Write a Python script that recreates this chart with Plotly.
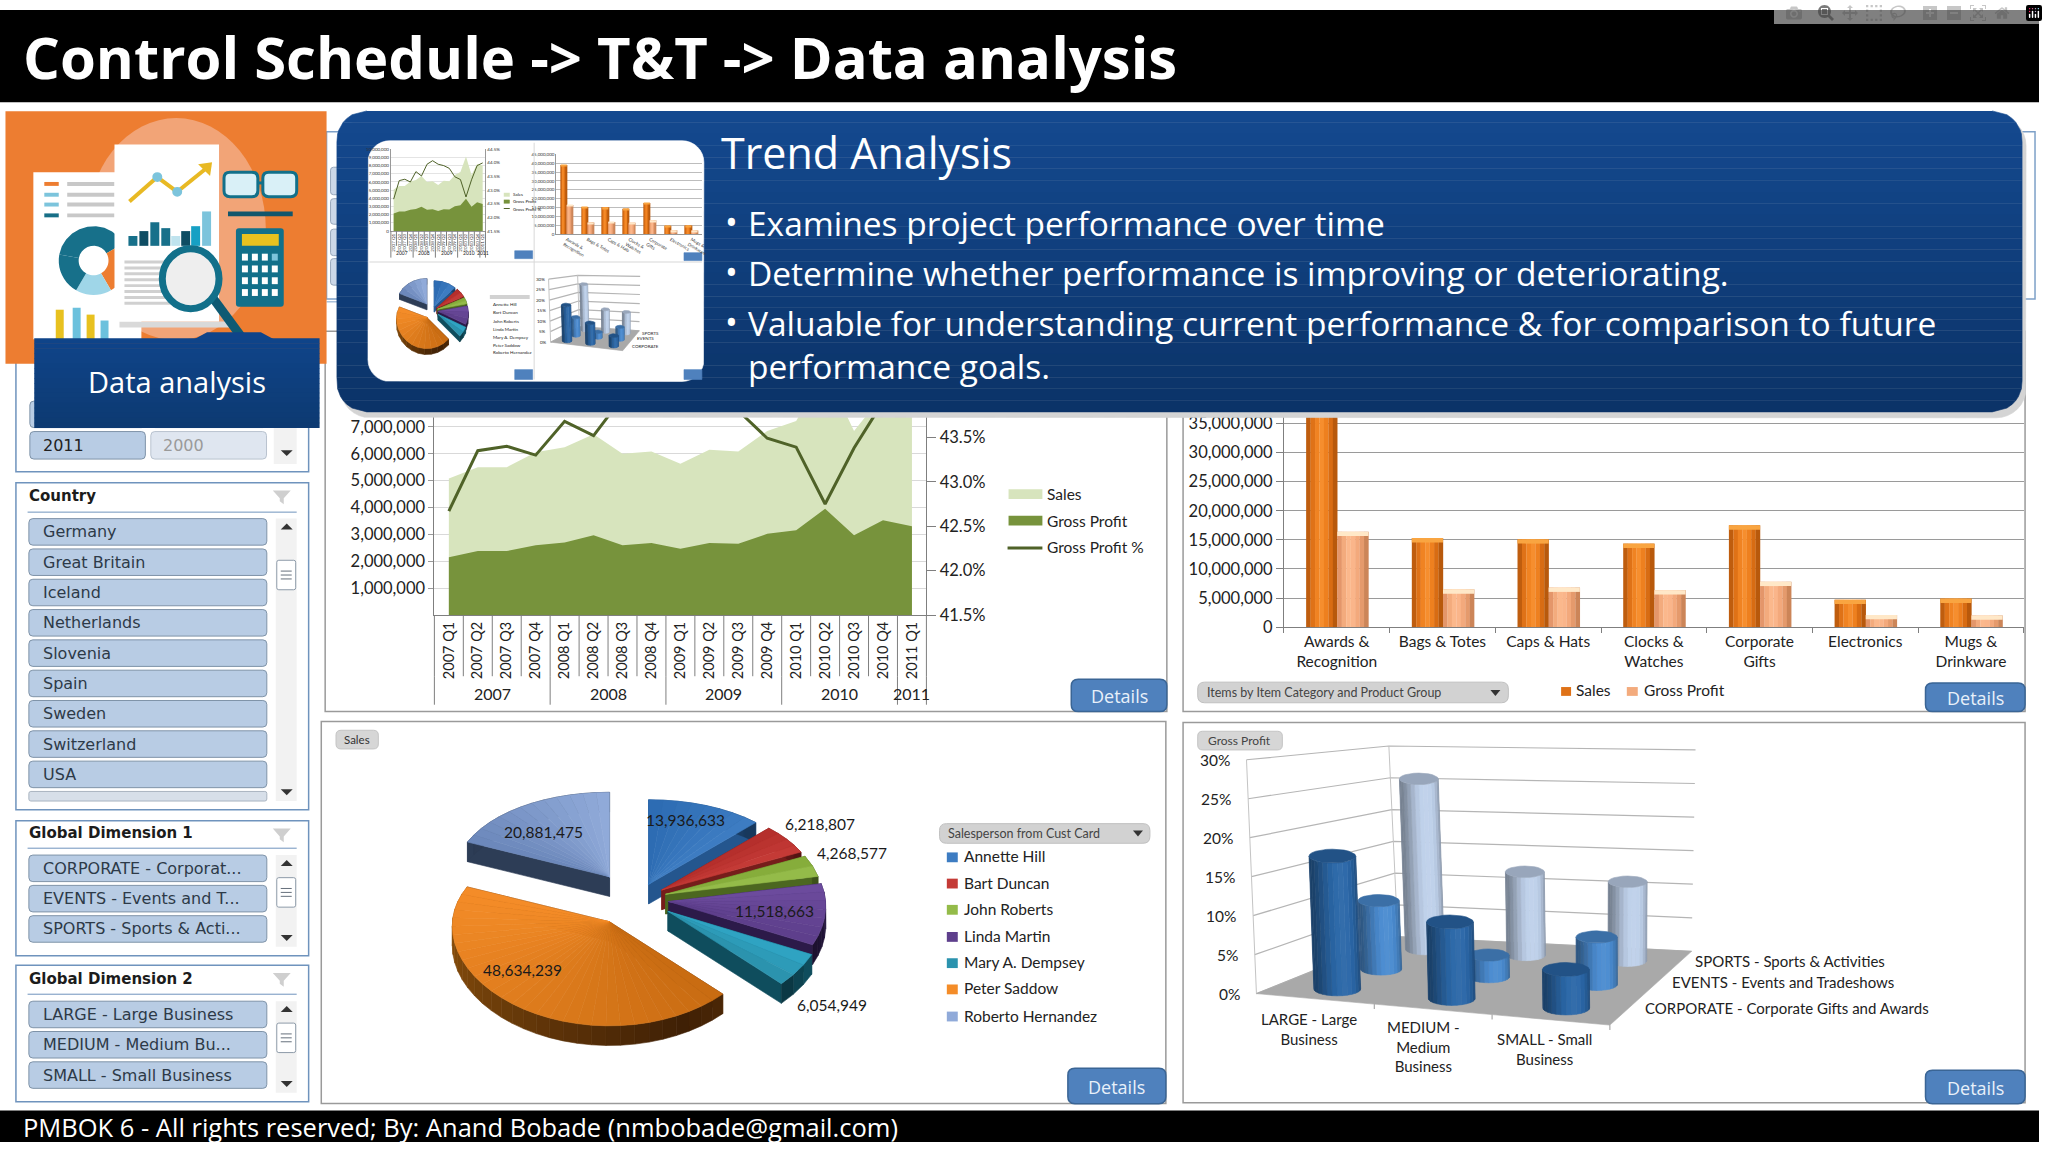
import math
import plotly.graph_objects as go

W, H = 2048, 1152

quarters = ['2007 Q1', '2007 Q2', '2007 Q3', '2007 Q4', '2008 Q1', '2008 Q2', '2008 Q3', '2008 Q4', '2009 Q1',
            '2009 Q2', '2009 Q3', '2009 Q4', '2010 Q1', '2010 Q2', '2010 Q3', '2010 Q4', '2011 Q1']
sales_q = [5.08e6, 5.5e6, 5.5e6, 6.06e6, 6.24e6, 6.73e6, 6.0e6, 6.08e6, 5.63e6,
           6.15e6, 6.08e6, 6.85e6, 7.22e6, 9.1e6, 6.85e6, 8.2e6, 8.0e6]
profit_q = [2.15e6, 2.38e6, 2.38e6, 2.6e6, 2.7e6, 2.97e6, 2.6e6, 2.68e6, 2.47e6,
            2.68e6, 2.65e6, 3.02e6, 3.15e6, 3.95e6, 2.97e6, 3.53e6, 3.3e6]
profit_pct = [42.67, 43.35, 43.4, 43.3, 43.68, 43.52, 43.95, 44.08, 43.95,
              43.9, 43.8, 43.49, 43.39, 42.75, 43.38, 43.9, 44.0]
years = ['2007', '2008', '2009', '2010', '2011']
year_quarters = [4, 4, 4, 4, 1]

bar_cats = ['Awards &<br>Recognition', 'Bags & Totes', 'Caps & Hats', 'Clocks &<br>Watches',
            'Corporate<br>Gifts', 'Electronics', 'Mugs &<br>Drinkware']
bar_sales = [39e6, 15.3e6, 15.1e6, 14.35e6, 17.5e6, 4.7e6, 4.9e6]
bar_profit = [16.4e6, 6.5e6, 6.8e6, 6.35e6, 7.8e6, 2.1e6, 2.0e6]

people = ['Annette Hill', 'Bart Duncan', 'John Roberts', 'Linda Martin', 'Mary A. Dempsey', 'Peter Saddow',
          'Roberto Hernandez']
pie_sales = [13936633, 6218807, 4268577, 11518663, 6054949, 48634239, 20881475]

sizes = ['LARGE - Large<br>Business', 'MEDIUM -<br>Medium<br>Business', 'SMALL - Small<br>Business']
dims = ['CORPORATE - Corporate Gifts and Awards', 'EVENTS - Events and Tradeshows', 'SPORTS - Sports & Activities']
margin_corporate = [17.5, 10, 5]
margin_events = [9.6, 3, 6.5]
margin_sports = [25.6, 12.3, 11.5]

countries = ['Germany', 'Great Britain', 'Iceland', 'Netherlands', 'Slovenia', 'Spain', 'Sweden', 'Switzerland', 'USA']
dim1_items = ['CORPORATE - Corporat...', 'EVENTS - Events and T...', 'SPORTS - Sports & Acti...']
dim2_items = ['LARGE - Large Business', 'MEDIUM - Medium Bu...', 'SMALL - Small Business']

bullets = ['Examines project performance over time', 'Determine whether performance is improving or deteriorating.',
           'Valuable for understanding current performance & for comparison to future', 'performance goals.']

# colours and layout constants
LATO = 'Lato'
SLIDE = 'Open Sans'
SLICER = 'DejaVu Sans'
PIE_TOP = [('#2d6cb3', '#3d7cc2'), ('#b52f2c', '#c43a36'), ('#86ad3b', '#94bb49'), ('#6c4b9d', '#5e3f8c'),
           ('#2fa3c2', '#2b93ae'), ('#c96c12', '#f48c28'), ('#6c88bb', '#90aad9')]
PIE_SIDE = ['#24568e', '#761d1b', '#4c6720', '#2c1a49', '#0f4d5d', '#5f330a', '#2d3d56']
PIE_PULL = [30, 30, 30, 32, 38, 50, 50]
PIE_LABELS = [(689, 824), (824, 828), (856, 858), (778, 917), (836, 1013), (525, 977), (546, 837)]
CYL_BASE = ['#2a67a8', '#4a8bd0', '#bed0ea']


def fx(x):
    return x / W


def fy(y):
    return 1 - y / H


shapes = []
notes = []
fig = go.Figure()


def rect(x0, y0, x1, y1, fill, line=None, layer='below', lw=1):
    shapes.append(dict(type='rect', xref='paper', yref='paper', x0=fx(x0), x1=fx(x1), y0=fy(y0), y1=fy(y1),
                       fillcolor=fill, layer=layer, line=dict(color=line or 'rgba(0,0,0,0)', width=lw if line else 0)))


def rpath(x0, y0, x1, y1, r):
    p = [('M', x0 + r, y0), ('L', x1 - r, y0), ('Q', x1, y0, x1, y0 + r), ('L', x1, y1 - r), ('Q', x1, y1, x1 - r, y1),
         ('L', x0 + r, y1), ('Q', x0, y1, x0, y1 - r), ('L', x0, y0 + r), ('Q', x0, y0, x0 + r, y0)]
    out = ''
    for seg in p:
        pts = seg[1:]
        out += seg[0] + ' '.join(f'{fx(pts[i]):.5f},{fy(pts[i + 1]):.5f}' for i in range(0, len(pts), 2)) + ' '
    return out + 'Z'


def rrect(x0, y0, x1, y1, r, fill, line=None, layer='below', lw=1):
    shapes.append(dict(type='path', xref='paper', yref='paper', path=rpath(x0, y0, x1, y1, r), fillcolor=fill,
                       layer=layer, line=dict(color=line or 'rgba(0,0,0,0)', width=lw if line else 0)))


def seg(x0, y0, x1, y1, color, w=1, layer='above'):
    shapes.append(dict(type='line', xref='paper', yref='paper', x0=fx(x0), x1=fx(x1), y0=fy(y0), y1=fy(y1),
                       layer=layer, line=dict(color=color, width=w)))


def tri(pts, fill, layer='below'):
    path = 'M' + ' L'.join(f'{fx(a):.5f},{fy(b):.5f}' for a, b in pts) + ' Z'
    shapes.append(dict(type='path', xref='paper', yref='paper', path=path, fillcolor=fill, layer=layer,
                       line=dict(width=0)))


def text(x, y, s, size, color='#222222', family=LATO, anchor='left', bold=False):
    notes.append(dict(xref='paper', yref='paper', x=fx(x), y=fy(y), text=f'<b>{s}</b>' if bold else s, showarrow=False,
                      xanchor=anchor, yanchor='middle', font=dict(family=family, size=size, color=color)))


def poly(xs, ys, color):
    fig.add_trace(go.Scatter(x=xs, y=ys, mode='lines', fill='toself', fillcolor=color, line=dict(color=color, width=0.6),
                             hoverinfo='skip', showlegend=False, xaxis='x3', yaxis='y4'))


def mix(a, b, t):
    ca = [int(a[i:i + 2], 16) for i in (1, 3, 5)]
    cb = [int(b[i:i + 2], 16) for i in (1, 3, 5)]
    return '#' + ''.join(f'{round(p + (q - p) * t):02x}' for p, q in zip(ca, cb))


def shade(c, f):
    return mix(c, '#000000', 1 - f) if f <= 1 else mix(c, '#ffffff', f - 1)


def rounded_outline(x0, y0, x1, y1, r, n=8):
    xs, ys = [], []
    for cx, cy, a0 in [(x1 - r, y0 + r, -90), (x1 - r, y1 - r, 0), (x0 + r, y1 - r, 90), (x0 + r, y0 + r, 180)]:
        for k in range(n + 1):
            a = math.radians(a0 + 90 * k / n)
            xs.append(cx + r * math.cos(a))
            ys.append(cy + r * math.sin(a))
    return xs + xs[:1], ys + ys[:1]


def gradient_card(x0, y0, x1, y1, r, top, bottom, bands=26):
    for k in range(bands):
        a, b = y0 + (y1 - y0) * k / bands, y0 + (y1 - y0) * (k + 1) / bands

        def inset(y):
            d = max(y0 + r - y, y - (y1 - r), 0)
            return r - math.sqrt(max(r * r - d * d, 0))
        ya = [a + (b - a) * t / 3 for t in range(4)]
        left = [x0 + inset(v) for v in ya]
        right = [x1 - inset(v) for v in ya]
        poly(left + right[::-1], ya + ya[::-1], mix(top, bottom, k / (bands - 1)))


def draw_pie(tf, steps=5):
    total = sum(pie_sales)
    starts, a = [], 0.0
    for v in pie_sales:
        starts.append(a)
        a += v * 360 / total

    def rim(ax, ay, th):
        t = math.radians(th)
        fr = (1 - math.cos(t)) / 2
        return ax + (150 + 15 * fr) * math.sin(t), ay - (86 + 20 * fr) * math.cos(t)

    depth = 20
    for i in [6, 0, 1, 2, 3, 4, 5]:
        th0 = starts[i]
        th1 = th0 + pie_sales[i] * 360 / total
        mid = math.radians((th0 + th1) / 2)
        ax = 640 + PIE_PULL[i] * math.sin(mid)
        ay = 905 - PIE_PULL[i] * 0.55 * math.cos(mid)
        n = max(2, int((th1 - th0) / steps))
        arc = [rim(ax, ay, th0 + (th1 - th0) * k / n) for k in range(n + 1)]
        for a_, b_ in [((ax, ay), arc[0]), (arc[-1], (ax, ay))]:
            pts = [a_, b_, (b_[0], b_[1] + depth), (a_[0], a_[1] + depth), a_]
            pts = [tf(*p) for p in pts]
            poly([p[0] for p in pts], [p[1] for p in pts], PIE_SIDE[i])
        for k in range(n):
            a_, b_ = arc[k], arc[k + 1]
            pts = [tf(*p) for p in [a_, b_, (b_[0], b_[1] + depth), (a_[0], a_[1] + depth), a_]]
            wall = mix(PIE_SIDE[i], shade(PIE_SIDE[i], 0.6), k / n) if i != 5 else mix('#3f2005', '#a5600f', abs(k / n - 0.1))
            poly([p[0] for p in pts], [p[1] for p in pts], wall)
        for k in range(n):
            pts = [tf(ax, ay), tf(*arc[k]), tf(*arc[k + 1]), tf(ax, ay)]
            poly([p[0] for p in pts], [p[1] for p in pts], mix(PIE_TOP[i][0], PIE_TOP[i][1], k / max(n - 1, 1)))


def project(u, v, z):
    fl, fr, bl, br = (1262, 1001), (1617, 1033), (1404, 943), (1699, 958)
    hfl, hfr, hbl, hbr = (-10, -238), (-2, -243), (-9, -194), (4, -205)
    out = []
    for c in range(2):
        base = (fl[c] * (1 - u) + fr[c] * u) * (1 - v) + (bl[c] * (1 - u) + br[c] * u) * v
        rise = (hfl[c] * (1 - u) + hfr[c] * u) * (1 - v) + (hbl[c] * (1 - u) + hbr[c] * u) * v
        out.append(base + rise * z / 30)
    return out


def draw_cylinders(tf, strips=14):
    # walls, floor and gridlines
    floor = [project(0, 0, 0), project(1, 0, 0), project(1, 1, 0), project(0, 1, 0), project(0, 0, 0)]
    floor = [tf(*p) for p in floor]
    for z in range(0, 35, 5):
        pts = [tf(*project(0, 0, z)), tf(*project(0, 1, z)), tf(*project(1, 1, z))]
        fig.add_trace(go.Scatter(x=[p[0] for p in pts], y=[p[1] for p in pts], mode='lines', hoverinfo='skip',
                                 showlegend=False, xaxis='x3', yaxis='y4', line=dict(color='#b5b5b5', width=1.2)))
    for u, v in [(0, 0), (0, 1)]:
        pts = [tf(*project(u, v, 0)), tf(*project(u, v, 30))]
        fig.add_trace(go.Scatter(x=[p[0] for p in pts], y=[p[1] for p in pts], mode='lines', hoverinfo='skip',
                                 showlegend=False, xaxis='x3', yaxis='y4', line=dict(color='#c4c4c4', width=1)))
    poly([p[0] for p in floor], [p[1] for p in floor], '#a9a9a9')
    rows = [margin_corporate, margin_events, margin_sports]
    radius = [23.5, 20.7, 19.5]
    for j in [2, 1, 0]:
        for i in range(3):
            u, v = (i + 0.5) / 3, (j + 0.5) / 3
            bx, by = project(u, v, 0)
            tx, ty = project(u, v, rows[j][i])
            r = radius[j]
            ry = r * 0.3
            for k in range(strips):
                p0, p1 = math.pi * k / strips, math.pi * (k + 1) / strips
                s = 0.62 + 0.42 * math.sin((p0 + p1) / 2 + 0.35) ** 2
                xs = [r * math.cos(p0), r * math.cos(p1)]
                ys = [ry * math.sin(p0), ry * math.sin(p1)]
                pts = [(bx + xs[0], by + ys[0]), (bx + xs[1], by + ys[1]), (tx + xs[1], ty + ys[1]),
                       (tx + xs[0], ty + ys[0]), (bx + xs[0], by + ys[0])]
                pts = [tf(*p) for p in pts]
                poly([p[0] for p in pts], [p[1] for p in pts], shade(CYL_BASE[j], s))
            cap = [tf(tx + r * math.cos(k * math.pi / 12), ty + ry * math.sin(k * math.pi / 12)) for k in range(25)]
            poly([p[0] for p in cap], [p[1] for p in cap], shade(CYL_BASE[j], 0.8))


def area_traces(xa, ya, ya2, lw):
    fig.add_trace(go.Scatter(x=quarters, y=sales_q, mode='none', fill='tozeroy', fillcolor='#d7e4bd', name='Sales',
                             hoverinfo='skip', showlegend=False, xaxis=xa, yaxis=ya))
    fig.add_trace(go.Scatter(x=quarters, y=profit_q, mode='none', fill='tozeroy', fillcolor='#77933c', name='Gross Profit',
                             hoverinfo='skip', showlegend=False, xaxis=xa, yaxis=ya))
    fig.add_trace(go.Scatter(x=quarters, y=profit_pct, mode='lines', line=dict(color='#4f6228', width=lw),
                             name='Gross Profit %', hoverinfo='skip', showlegend=False, xaxis=xa, yaxis=ya2))


def bar_traces(xa, ya, cap):
    sales_strips = ['#bf5d0e', '#df7217', '#f08322', '#f68e2e', '#ee801f', '#d86c13', '#b8590c']
    profit_strips = ['#e4966a', '#f3ab7d', '#fbb88c', '#fab58a', '#f3a97c', '#e59a6c', '#cc8558']
    for vals, start, strips, top in [(bar_sales, -0.29, sales_strips, '#f9a541'), (bar_profit, 0.005, profit_strips, '#ffe8c8')]:
        w = 0.295 / len(strips)
        for k, c in enumerate(strips):
            fig.add_trace(go.Bar(x=bar_cats, y=vals, width=w * 1.04, offset=start + k * w, marker=dict(color=c, line=dict(width=0)),
                                 hoverinfo='skip', showlegend=False, xaxis=xa, yaxis=ya))
        fig.add_trace(go.Bar(x=bar_cats, y=[cap] * 7, base=[v - cap for v in vals], width=0.295, offset=start,
                             marker=dict(color=top, line=dict(width=0)), hoverinfo='skip', showlegend=False,
                             xaxis=xa, yaxis=ya))


def year_lines(xa_ref, x0, x1, base, q_end, y_end, size, y_text):
    unit = (x1 - x0) / len(quarters)
    for k in range(len(quarters) + 1):
        seg(x0 + k * unit, base, x0 + k * unit, q_end, '#7f7f7f', 1)
    pos = 0
    for name, count in zip(years, year_quarters):
        seg(x0 + pos * unit, q_end, x0 + pos * unit, y_end, '#7f7f7f', 1)
        text(x0 + (pos + count / 2) * unit, y_text, name, size, '#222222', anchor='center')
        pos += count
    seg(x1, q_end, x1, y_end, '#7f7f7f', 1)


def button(x0, y0, x1, y1, label='Details', size=18):
    rrect(x0, y0, x1, y1, 7, '#4f81bd', '#3a6595', lw=1.5, layer='above')
    text((x0 + x1) / 2, (y0 + y1) / 2 + 1, label, size, '#e8f0fa', SLIDE, 'center')


def slicer(title, top, bottom, line_y, labels, first_y, thumb):
    rect(16, top, 310, bottom, '#ffffff', '#6f93bd', lw=1.5)
    text(27, (top + line_y) / 2 - 1, title, 15, '#1c1c1c', SLICER, bold=True)
    tri([(274, 489), (292, 489), (285, 497), (285, 503), (281, 500), (281, 497)], '#cfcfcf') if top == 481 else \
        tri([(274, top + 8), (292, top + 8), (285, top + 16), (285, top + 22), (281, top + 19), (281, top + 16)], '#cfcfcf')
    seg(27.7, line_y, 298, line_y, '#6f93bd', 1, 'below')
    for k, name in enumerate(labels):
        y = first_y + k * 30.85
        rrect(29, y, 268, y + 27, 4, '#b8cce4', '#7f93a8')
        text(41, y + 13.5, name, 16, '#2d3a48', SLICER)
    last = first_y + len(labels) * 30.85
    end = bottom - 9
    if last + 4 < end:
        rrect(29, last, 268, end, 2, '#d7dfe9', '#a9b4c0')
    rect(277, first_y, 298, end, '#f2f2f2')
    tri([(282, first_y + 11), (288, first_y + 5), (294, first_y + 11)], '#333333')
    tri([(282, end - 12), (294, end - 12), (288, end - 6)], '#333333')
    rrect(278, thumb, 297, thumb + 30, 2, '#ffffff', '#8d9aa8')
    for k in range(3):
        seg(282, thumb + 11 + 4 * k, 293, thumb + 11 + 4 * k, '#66707c', 1, 'below')


# -------- panels behind the charts
rect(328, 124, 2044, 294, '#ffffff', '#7da0c8', lw=1.5)
for a_, b_ in [(160, 188), (192, 218), (223, 250), (253, 280)]:
    rrect(332, a_, 345, b_, 3, '#ccd8e8', '#98a8bc')
seg(328, 297, 345, 297, '#7da0c8', 1, 'below')
rect(326.6, 327, 1172, 714, '#ffffff', '#9a9a9a', lw=1.5)
rect(1188.3, 327, 2034, 714, '#ffffff', '#9a9a9a', lw=1.5)
rect(322.7, 724, 1171, 1112.7, '#ffffff', '#9a9a9a', lw=1.5)
rect(1188.3, 725, 2034, 1112, '#ffffff', '#9a9a9a', lw=1.5)

# -------- left slicers
rect(16, 300, 310, 470, '#ffffff', '#6f93bd', lw=1.5)
for a_, b_ in [(398, 425), (429, 457)]:
    rrect(30, a_, 146, b_, 4, '#b8cce4', '#7f93a8')
    rrect(151.5, a_, 267.7, b_, 4, '#dfe6f0', '#b9c3cf')
text(41, 443, '2011', 16, '#222222', SLICER)
text(162, 443, '2000', 16, '#9a9a9a', SLICER)
rect(275, 360, 298, 462, '#f2f2f2')
tri([(282, 448), (294, 448), (288, 454)], '#333333')
slicer('Country', 481, 814, 511, countries, 517.6, 560)
slicer('Global Dimension 1', 825, 962.4, 853, dim1_items, 860, 883)
slicer('Global Dimension 2', 972, 1111, 1001.6, dim2_items, 1008.7, 1031)

# -------- area chart (main)
area_traces('x', 'y', 'y2', 3)
year_lines('x', 436.3, 930.5, 615.7, 678, 707, 16, 696)
for lbl, y_, col in [('Sales', 492.6, '#d7e4bd'), ('Gross Profit', 519.6, '#77933c')]:
    rect(1013, y_ - 5, 1047, y_ + 5, col, layer='above')
    text(1049.6, y_, lbl, 15.5)
seg(1012, 547.5, 1047, 547.5, '#4f6228', 3)
text(1049.6, 546.6, 'Gross Profit %', 15.5)

# -------- bar chart (main)
bar_traces('x2', 'y3', 0.75e6)
rrect(1203, 684, 1515, 705, 7, '#d2d2d2', '#c0c0c0')
text(1210, 694.5, 'Items by Item Category and Product Group', 12.5, '#444444')
tri([(1497, 692), (1507, 692), (1502, 698)], '#333333')
rect(1568, 689, 1578, 698, '#df7217', layer='above')
text(1581.4, 692, 'Sales', 15.5)
rect(1634, 689, 1645, 698, '#f3ab7d', layer='above')
text(1649.5, 692, 'Gross Profit', 15.5)

# -------- pie and cylinders share the pixel canvas
identity = lambda x, y: (x, y)
draw_pie(identity)
rrect(337.5, 733, 380, 752, 5, '#d6d6d6', '#c4c4c4')
text(358.7, 742.5, 'Sales', 11.5, '#333333', anchor='center')
rrect(943.7, 828, 1155, 848, 7, '#d2d2d2', '#c0c0c0')
text(950, 838, 'Salesperson from Cust Card', 12.5, '#444444')
tri([(1138, 835), (1148, 835), (1143, 841)], '#333333')
for name, v, (lx, ly) in zip(people, pie_sales, PIE_LABELS):
    text(lx, ly, f'{v:,}', 15.5, '#1a1a1a', anchor='center')
for k, name in enumerate(people):
    y_ = [862.3, 889, 915.7, 943.3, 970, 996.7, 1024.3][k]
    rect(951, y_ - 5, 962, y_ + 5, PIE_TOP[k][1], layer='above')
    text(966, y_ - 1, name, 15.5)

draw_cylinders(identity)
rrect(1203, 734, 1288, 753, 5, '#d6d6d6', '#c4c4c4')
text(1245, 743.5, 'Gross Profit', 12, '#444444', anchor='center')
for z in range(0, 35, 5):
    px, py = project(0, 0, z)
    text(px - 15, py, f'{z}%', 15.5, '#222222', anchor='right')
for u in (1 / 3, 2 / 3, 1):
    px, py = project(u, 0, 0)
    seg(px, py, px, py + 5, '#999999', 1)
for name, (lx, ly) in zip(sizes, [(1314.5, 1037), (1430, 1055), (1551, 1057)]):
    text(lx, ly, name, 15, '#222222', anchor='center')
for name, (lx, ly) in zip(dims, [(1650.7, 1016), (1677, 989), (1700.5, 968)]):
    text(lx, ly, name, 15)

button(1076, 681, 1172, 714)
button(1934, 685, 2034, 714)
button(1072.6, 1077, 1171, 1113)
button(1934, 1079, 2034, 1113)

# -------- trend analysis card, on top of the chart tops
xs_, ys_ = rounded_outline(342, 108, 2035, 415, 30)
poly(xs_, ys_, '#d4d4d4')
gradient_card(338.4, 102.7, 2031, 409, 30, '#14498f', '#0b3368')
xs_, ys_ = rounded_outline(369.6, 133, 707, 378, 22)
poly(xs_, ys_, '#ffffff')

thumb_pie = lambda x, y: (434 + (x - 640) * 0.192, 312 + (y - 925) * 0.30)
thumb_cyl = lambda x, y: (551 + (x - 1252) * 0.204, 270 + (y - 749) * 0.27)
draw_pie(thumb_pie, steps=12)
draw_cylinders(thumb_cyl, strips=6)
area_traces('x4', 'y5', 'y6', 1)
bar_traces('x5', 'y7', 0.75e6)
for x0_, y0_, x1_, y1_ in [(517, 245, 535, 253), (687, 247, 705, 255), (517, 366, 535, 376), (687, 366, 705, 376)]:
    poly([x0_, x1_, x1_, x0_, x0_], [y0_, y0_, y1_, y1_, y0_], '#4f81bd')
rect(536, 135, 537, 376, '#d8d8d8', layer='above')
rect(371, 256, 705, 257, '#d8d8d8', layer='above')
year_lines('x4', 392.6, 487.6, 225, 240, 252, 5, 247)
for lbl, y_ in [('Sales', 188), ('Gross Profit', 195), ('Gross Profit %', 203)]:
    text(513, y_, lbl, 4.5)
rect(506, 186, 512, 190, '#d7e4bd', layer='above')
rect(506, 193, 512, 197, '#77933c', layer='above')
seg(506, 202, 512, 202, '#4f6228', 1)
for name, y_ in zip(people, [300, 308, 317, 325, 333, 341, 349]):
    text(493, y_, name, 4.5)
rect(492, 290, 532, 294, '#d2d2d2', layer='above')
for z in range(0, 35, 5):
    px, py = thumb_cyl(*project(0, 0, z))
    text(px - 2, py, f'{z}%', 4.5, anchor='right')
for name, (lx, ly) in zip(dims, [(1650.7, 1016), (1677, 989), (1700.5, 968)]):
    px, py = thumb_cyl(lx, ly)
    text(px, py, name.split(' - ')[0], 4.5)

text(722, 145, 'Trend Analysis', 43, '#ffffff', SLIDE)
for k, (line_, y_) in enumerate(zip(bullets, [217, 268, 319, 362])):
    if k < 3:
        text(726, y_ - 1, '•', 34, '#ffffff', SLIDE)
    text(749, y_, line_, 33.5, '#ffffff', SLIDE)

# -------- data analysis picture
rect(5.5, 103, 328, 360, '#ed7d31', layer='above')
shapes.append(dict(type='circle', xref='paper', yref='paper', x0=fx(87), x1=fx(267), y0=fy(110), y1=fy(336),
                   fillcolor='#f2a477', layer='above', line=dict(width=0)))
rect(33.5, 165, 142, 335, '#ffffff', layer='above')
for y_, col in [(177, '#ed7d31'), (188, '#7cc4dc'), (198, '#7cc4dc'), (209, '#176f87')]:
    rect(44.5, y_ - 2, 59, y_ + 2, col, layer='above')
    rect(67.5, y_ - 2, 115, y_ + 2, '#c8c8c8', layer='above')
for a0, a1, col in [(-170, -30, '#17708a'), (-30, 60, '#ed7d31'), (60, 120, '#9fd6e8'), (120, 190, '#17708a')]:
    outer = [(94 + 35 * math.cos(math.radians(a0 + (a1 - a0) * k / 10)),
              255 + 35 * math.sin(math.radians(a0 + (a1 - a0) * k / 10))) for k in range(11)]
    inner = [(94 + 15 * math.cos(math.radians(a1 - (a1 - a0) * k / 10)),
              255 + 15 * math.sin(math.radians(a1 - (a1 - a0) * k / 10))) for k in range(11)]
    tri(outer + inner, col, 'above')
for x_, y_, col in [(56, 305, '#e8c11f'), (73, 303, '#6cc1dd'), (87, 310, '#e8c11f'), (101, 316, '#6cc1dd')]:
    rect(x_, y_, x_ + 8, 335, col, layer='above')
rect(120, 317, 230, 323, '#d9d9d9', layer='above')
rect(115, 137, 220, 317, '#ffffff', layer='above')
seg(130, 195, 158, 170, '#e8b923', 4)
seg(158, 170, 178, 185, '#e8b923', 4)
seg(178, 185, 211, 158, '#e8b923', 4)
tri([(199, 157), (213, 155), (211, 169)], '#e8b923', 'above')
for cx_, cy_ in [(158, 170), (178, 185)]:
    shapes.append(dict(type='circle', xref='paper', yref='paper', x0=fx(cx_ - 5), x1=fx(cx_ + 5), y0=fy(cy_ - 5),
                       y1=fy(cy_ + 5), fillcolor='#7cc4dc', layer='above', line=dict(width=0)))
for x_, top_, col in [(129, 230, '#17708a'), (140, 225, '#0e4d63'), (151, 216, '#17708a'), (162, 222, '#17708a'),
                      (172, 230, '#bfe3ee'), (182, 225, '#0e4d63'), (192, 220, '#17a0c4'), (203, 205, '#7cc4dc')]:
    rect(x_, top_, x_ + 9, 240, col, layer='above')
for k in range(8):
    rect(125, 255 + k * 6, 175, 258 + k * 6, '#d0d0d0', layer='above')
seg(213, 292, 242, 332, '#0e5a73', 9)
shapes.append(dict(type='circle', xref='paper', yref='paper', x0=fx(163), x1=fx(220), y0=fy(243), y1=fy(304),
                   fillcolor='#eeeeee', layer='above', line=dict(color='#12708a', width=7)))
for x_ in (225, 264):
    rrect(x_, 165, x_ + 34, 190, 6, '#d9f0f7', '#12708a', 'above', 3)
seg(259, 176, 264, 176, '#12708a', 3)
rect(229, 205, 294, 210, '#12566c', layer='above')
rrect(237, 222, 285, 302, 3, '#12708a', layer='above')
rect(243, 228, 280, 240, '#e8c11f', layer='above')
for r_ in range(4):
    for c_ in range(4):
        rect(243 + c_ * 10, 248 + r_ * 12, 249 + c_ * 10, 255 + r_ * 12, '#ffffff' if r_ or c_ < 3 else '#7cc4dc', layer='above')

for k in range(18):
    a_, b_ = 334 + k * 91 / 18, 334 + (k + 1) * 91 / 18
    rect(34.4, a_, 321, b_ + 0.5, mix('#0f4489', '#0d3a72', k / 17), layer='above')
tri([(195, 335), (208, 328), (262, 328), (275, 335)], '#0f4489', 'above')
text(177.7, 378, 'Data analysis', 29, '#ffffff', SLIDE, 'center')

# -------- title and footer
rect(0, 0, W, 94, '#000000', layer='above')
text(21, 47, 'Control Schedule -&gt; T&amp;T -&gt; Data analysis', 58, '#ffffff', SLIDE, bold=True)
rect(0, 1120, W, H, '#000000', layer='above')
text(21, 1137, 'PMBOK 6 - All rights reserved; By: Anand Bobade (nmbobade@gmail.com)', 25.5, '#ffffff', SLIDE)


def dom(a, b, size):
    return [a / size, b / size]


def ydom(top, bottom):
    return [1 - bottom / H, 1 - top / H]


tick_font = dict(family=LATO, size=16.5, color='#222222')
mini_font = dict(family=LATO, size=4.5, color='#333333')
grid = '#d9d9d9'
fig.update_layout(
    width=W, height=H, margin=dict(l=0, r=0, t=0, b=0), paper_bgcolor='#ffffff', plot_bgcolor='rgba(0,0,0,0)',
    showlegend=False, barmode='overlay', shapes=shapes, annotations=notes,
    xaxis=dict(domain=dom(436.3, 930.5, W), type='category', categoryorder='array', categoryarray=quarters,
               range=[-0.5, 16.5], tickangle=-90, ticks='', showgrid=False, showline=True, linecolor='#7f7f7f',
               tickfont=dict(family=LATO, size=14.5, color='#222222'), anchor='y'),
    yaxis=dict(domain=ydom(340, 615.7), range=[0, 10.08e6], tickvals=[k * 1e6 for k in range(1, 11)], tickformat=',d',
               ticks='outside', ticklen=5, tickcolor='#9a9a9a', gridcolor=grid, zeroline=False, showline=True,
               linecolor='#7f7f7f', tickfont=tick_font, anchor='x'),
    yaxis2=dict(domain=ydom(340, 615.7), range=[41.5, 44.55], dtick=0.5, tick0=41.5, ticksuffix='%', tickformat='.1f',
                overlaying='y', side='right', anchor='x', ticks='outside', ticklen=9, tickcolor='#7f7f7f', showgrid=False,
                zeroline=False, showline=True, linecolor='#7f7f7f', tickfont=tick_font),
    xaxis2=dict(domain=dom(1289.6, 2032.7, W), type='category', categoryorder='array', categoryarray=bar_cats,
                tickson='boundaries', ticks='outside', ticklen=5, tickcolor='#7f7f7f', showline=True, linecolor='#7f7f7f',
                showgrid=False, tickfont=dict(family=LATO, size=15.5, color='#222222'), anchor='y3'),
    yaxis3=dict(domain=ydom(361.6, 628), range=[0, 45e6], dtick=5e6, tickformat=',d', ticks='outside', ticklen=7,
                tickcolor='#7f7f7f', gridcolor='#9a9a9a', zeroline=False, showline=True, linecolor='#7f7f7f',
                tickfont=tick_font, anchor='x2'),
    xaxis3=dict(domain=[0, 1], range=[0, W], visible=False, fixedrange=True, anchor='y4'),
    yaxis4=dict(domain=[0, 1], range=[H, 0], visible=False, fixedrange=True, anchor='x3'),
    xaxis4=dict(domain=dom(392.6, 487.6, W), type='category', categoryorder='array', categoryarray=quarters,
                range=[-0.5, 16.5], tickangle=-90, ticks='', showgrid=False, showline=True, linecolor='#999999',
                tickfont=mini_font, anchor='y5'),
    yaxis5=dict(domain=ydom(141.7, 225), range=[0, 10e6], dtick=1e6, tickformat=',d', gridcolor='#e4e4e4', zeroline=False,
                showline=True, linecolor='#999999', tickfont=mini_font, anchor='x4'),
    yaxis6=dict(domain=ydom(141.7, 225), range=[41.5, 44.5], dtick=0.5, tick0=41.5, ticksuffix='%', tickformat='.1f',
                overlaying='y5', side='right', anchor='x4', showgrid=False, zeroline=False, showline=True,
                linecolor='#999999', tickfont=mini_font),
    xaxis5=dict(domain=dom(558.8, 704.8, W), type='category', categoryorder='array', categoryarray=bar_cats,
                tickson='boundaries', showline=True, linecolor='#999999', showgrid=False, tickfont=mini_font, anchor='y7'),
    yaxis7=dict(domain=ydom(147, 228), range=[0, 45e6], dtick=5e6, tickformat=',d', gridcolor='#bdbdbd', zeroline=False,
                showline=True, linecolor='#999999', tickfont=mini_font, anchor='x5'),
)

fig.write_html("out.html", post_script="document.body.style.margin='0';document.body.style.overflow='hidden';")
